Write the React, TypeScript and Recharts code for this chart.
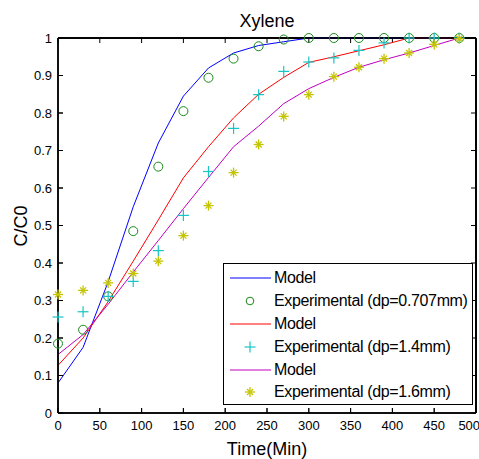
import React from 'react';
import { ComposedChart, Line, Scatter, XAxis, YAxis, CartesianGrid, ReferenceLine } from 'recharts';

// time in minutes
const times = [0, 30, 60, 90, 120, 150, 180, 210, 240, 270, 300, 330, 360, 390, 420, 450, 480];

// dp = 0.707 mm
const modelA = [0.08, 0.175, 0.35, 0.55, 0.72, 0.845, 0.92, 0.96, 0.98, 0.99, 1, 1, 1, 1, 1, 1, 1];
const expA = [0.185, 0.222, 0.311, 0.485, 0.657, 0.805, 0.894, 0.945, 0.978, 0.996, 1, 1, 1, 1, 1, 1, 1];

// dp = 1.4 mm
const modelB = [0.127, 0.2, 0.297, 0.405, 0.515, 0.627, 0.71, 0.787, 0.85, 0.895, 0.935, 0.95, 0.966, 0.982, 1, 1, 1];
const expB = [0.256, 0.27, 0.311, 0.351, 0.433, 0.527, 0.644, 0.759, 0.849, 0.911, 0.936, 0.947, 0.967, 0.987, 1, 1, 1];

// dp = 1.6 mm
const modelC = [0.156, 0.209, 0.29, 0.376, 0.46, 0.545, 0.628, 0.71, 0.765, 0.825, 0.865, 0.895, 0.922, 0.942, 0.96, 0.98, 1];
const expC = [0.316, 0.327, 0.347, 0.372, 0.405, 0.473, 0.553, 0.641, 0.716, 0.791, 0.849, 0.897, 0.922, 0.945, 0.96, 0.983, 0.998];

const xTicks = [0, 50, 100, 150, 200, 250, 300, 350, 400, 450, 500];
const yTicks = [0, 0.1, 0.2, 0.3, 0.4, 0.5, 0.6, 0.7, 0.8, 0.9, 1];

const data = times.map((t, i) => ({
  t,
  mA: modelA[i],
  eA: expA[i],
  mB: modelB[i],
  eB: expB[i],
  mC: modelC[i],
  eC: expC[i],
}));

const BLUE = '#0000ff';
const GREEN = '#1a8a1a';
const RED = '#ff0000';
const CYAN = '#19c4c4';
const MAGENTA = '#c000c0';
const OLIVE = '#c4c400';

const FONT = '"Liberation Sans", Arial, sans-serif';
const TICK_LEN = 5;

const Circle = ({ cx, cy, r = 4.5 }: { cx: number; cy: number; r?: number }) => (
  <circle cx={cx} cy={cy} r={r} fill="none" stroke={GREEN} strokeWidth={1} />
);

const Plus = ({ cx, cy }: { cx: number; cy: number }) => (
  <g stroke={CYAN} strokeWidth={1.2}>
    <line x1={cx - 5.5} y1={cy} x2={cx + 5.5} y2={cy} />
    <line x1={cx} y1={cy - 5.5} x2={cx} y2={cy + 5.5} />
  </g>
);

const Star = ({ cx, cy }: { cx: number; cy: number }) => (
  <g stroke={OLIVE} strokeWidth={1.3}>
    <line x1={cx - 5} y1={cy} x2={cx + 5} y2={cy} />
    <line x1={cx} y1={cy - 5} x2={cx} y2={cy + 5} />
    <line x1={cx - 3} y1={cy - 3} x2={cx + 3} y2={cy + 3} />
    <line x1={cx - 3} y1={cy + 3} x2={cx + 3} y2={cy - 3} />
  </g>
);

// grid lines reused as the matlab box: full line on the edges, short inward ticks elsewhere
const VGrid = (p: any) => {
  const top = Math.min(p.y1, p.y2);
  const bot = Math.max(p.y1, p.y2);
  const edge = p.index === 0 || p.index === xTicks.length - 1;
  return (
    <g key={`v-${p.index}`}>
      {edge && <line x1={p.x1} x2={p.x1} y1={top} y2={bot} stroke="#000" strokeWidth={1.5} />}
      <line x1={p.x1} x2={p.x1} y1={top} y2={top + TICK_LEN} stroke="#000" strokeWidth={1} />
      <line x1={p.x1} x2={p.x1} y1={bot} y2={bot - TICK_LEN} stroke="#000" strokeWidth={1} />
    </g>
  );
};

const HGrid = (p: any) => {
  const left = Math.min(p.x1, p.x2);
  const right = Math.max(p.x1, p.x2);
  const edge = p.index === 0 || p.index === yTicks.length - 1;
  return (
    <g key={`h-${p.index}`}>
      {edge && <line x1={left} x2={right} y1={p.y1} y2={p.y1} stroke="#000" strokeWidth={1.5} />}
      <line x1={left} x2={left + TICK_LEN} y1={p.y1} y2={p.y1} stroke="#000" strokeWidth={1} />
      <line x1={right} x2={right - TICK_LEN} y1={p.y1} y2={p.y1} stroke="#000" strokeWidth={1} />
    </g>
  );
};

const tickStyle = { fontSize: 13, fontFamily: FONT, fill: '#000' };
const frameLine = { stroke: '#000', strokeWidth: 1.5 };
const tickLineStyle = { stroke: '#000', strokeWidth: 1 };

const legendRows = [
  { kind: 'line', color: BLUE, text: 'Model' },
  { kind: 'circle', text: 'Experimental (dp=0.707mm)' },
  { kind: 'line', color: RED, text: 'Model' },
  { kind: 'plus', text: 'Experimental (dp=1.4mm)' },
  { kind: 'line', color: MAGENTA, text: 'Model' },
  { kind: 'star', text: 'Experimental (dp=1.6mm)' },
];

const LegendBox = () => (
  <div
    style={{
      position: 'absolute',
      left: 223,
      top: 263,
      width: 248,
      height: 137,
      border: '1px solid #000',
      background: '#fff',
      fontFamily: FONT,
      fontSize: 16,
      color: '#000',
      paddingTop: 3,
      boxSizing: 'content-box',
    }}
  >
    {legendRows.map((r, i) => (
      <div key={i} style={{ display: 'flex', alignItems: 'center', height: 22.8, whiteSpace: 'nowrap' }}>
        <svg width={50} height={14} style={{ flex: 'none' }}>
          {r.kind === 'line' && <line x1={6} y1={7} x2={47} y2={7} stroke={r.color} strokeWidth={1} />}
          {r.kind === 'circle' && <Circle cx={26} cy={7} r={3.8} />}
          {r.kind === 'plus' && <Plus cx={26} cy={7} />}
          {r.kind === 'star' && <Star cx={26} cy={7} />}
        </svg>
        <span style={{ letterSpacing: -0.35 }}>{r.text}</span>
      </div>
    ))}
  </div>
);

const textBase: React.CSSProperties = {
  position: 'absolute',
  fontFamily: FONT,
  fontSize: 18,
  lineHeight: '20px',
  color: '#000',
  textAlign: 'center',
  whiteSpace: 'nowrap',
};

export default function App() {
  return (
    <div style={{ position: 'absolute', left: 0, top: 0, width: 479, height: 459, background: '#fff', overflow: 'hidden' }}>
      <ComposedChart width={479} height={459} data={data} margin={{ top: 28, right: 0, left: 0, bottom: 0 }}>
        <CartesianGrid horizontal={HGrid} vertical={VGrid} />
        <XAxis
          dataKey="t"
          type="number"
          domain={[0, 500]}
          ticks={xTicks}
          height={46}
          tickSize={-5}
          tickMargin={13}
          tick={tickStyle}
          tickLine={tickLineStyle}
          axisLine={frameLine}
        />
        <XAxis
          xAxisId="top"
          dataKey="t"
          orientation="top"
          type="number"
          domain={[0, 500]}
          ticks={xTicks}
          height={10}
          tickSize={-5}
          tick={false}
          tickLine={tickLineStyle}
          axisLine={frameLine}
        />
        <YAxis
          type="number"
          domain={[0, 1]}
          ticks={yTicks}
          width={58}
          tickSize={-5}
          tickMargin={11}
          tick={tickStyle}
          tickLine={tickLineStyle}
          axisLine={frameLine}
        />
        <YAxis
          yAxisId="right"
          orientation="right"
          type="number"
          domain={[0, 1]}
          ticks={yTicks}
          width={3}
          tickSize={-5}
          tick={false}
          tickLine={tickLineStyle}
          axisLine={frameLine}
        />
        <ReferenceLine y={1} stroke="#000" strokeWidth={1.5} />
        <ReferenceLine x={500} stroke="#000" strokeWidth={1.5} />
        {/* blue model drawn on the top/right axes (same domains) so those axes get rendered */}
        <Line xAxisId="top" yAxisId="right" dataKey="mA" stroke={BLUE} strokeWidth={1} dot={false} activeDot={false} isAnimationActive={false} />
        <Scatter dataKey="eA" shape={(p: any) => <Circle cx={p.cx} cy={p.cy} />} isAnimationActive={false} />
        <Line dataKey="mB" stroke={RED} strokeWidth={1} dot={false} activeDot={false} isAnimationActive={false} />
        <Scatter dataKey="eB" shape={(p: any) => <Plus cx={p.cx} cy={p.cy} />} isAnimationActive={false} />
        <Line dataKey="mC" stroke={MAGENTA} strokeWidth={1} dot={false} activeDot={false} isAnimationActive={false} />
        <Scatter dataKey="eC" shape={(p: any) => <Star cx={p.cx} cy={p.cy} />} isAnimationActive={false} />
      </ComposedChart>
      <div style={{ ...textBase, left: 167, top: 11, width: 200 }}>Xylene</div>
      <div style={{ ...textBase, left: 167, top: 439, width: 200 }}>Time(Min)</div>
      <div style={{ ...textBase, left: -29, top: 216, width: 100, transform: 'rotate(-90deg)' }}>C/C0</div>
      <LegendBox />
    </div>
  );
}
